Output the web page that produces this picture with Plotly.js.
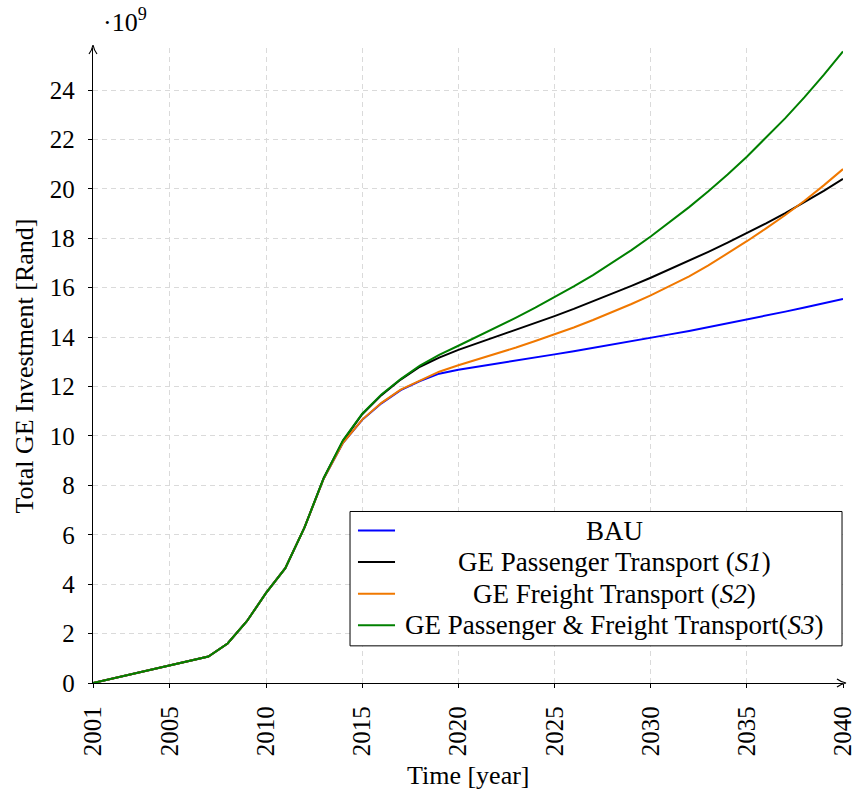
<!DOCTYPE html>
<html>
<head>
<meta charset="utf-8">
<script src="https://cdn.plot.ly/plotly-3.0.1.min.js"></script>
<style>
  html, body { margin: 0; padding: 0; background: #fff; }
  #chart { width: 854px; height: 790px; }
</style>
</head>
<body>
<div id="chart"></div>
<script>
// Total green-economy investment per scenario, in units of 10^9 Rand
const years = [2001, 2002, 2003, 2004, 2005, 2006, 2007, 2008, 2009, 2010,
               2011, 2012, 2013, 2014, 2015, 2016, 2017, 2018, 2019, 2020,
               2021, 2022, 2023, 2024, 2025, 2026, 2027, 2028, 2029, 2030,
               2031, 2032, 2033, 2034, 2035, 2036, 2037, 2038, 2039, 2040];

const bau = [0, 0.18, 0.35, 0.53, 0.71, 0.89, 1.07, 1.6, 2.5, 3.65,
             4.65, 6.3, 8.28, 9.72, 10.65, 11.32, 11.85, 12.22, 12.52, 12.68,
             12.8, 12.93, 13.06, 13.18, 13.3, 13.43, 13.56, 13.69, 13.83, 13.97,
             14.11, 14.25, 14.4, 14.55, 14.71, 14.87, 15.03, 15.2, 15.37, 15.54];

const passengerS1 = [0, 0.18, 0.35, 0.53, 0.71, 0.89, 1.07, 1.6, 2.5, 3.65,
                     4.65, 6.3, 8.3, 9.8, 10.88, 11.65, 12.28, 12.8, 13.17, 13.48,
                     13.75, 14.02, 14.29, 14.57, 14.85, 15.14, 15.44, 15.75, 16.07, 16.4,
                     16.74, 17.09, 17.45, 17.82, 18.2, 18.6, 19.02, 19.46, 19.92, 20.4];

const freightS2 = [0, 0.18, 0.35, 0.53, 0.71, 0.89, 1.07, 1.6, 2.5, 3.65,
                   4.65, 6.3, 8.28, 9.72, 10.66, 11.34, 11.87, 12.24, 12.6, 12.86,
                   13.09, 13.33, 13.58, 13.84, 14.11, 14.39, 14.69, 15.01, 15.34, 15.69,
                   16.06, 16.46, 16.9, 17.38, 17.88, 18.4, 18.94, 19.52, 20.14, 20.8];

const combinedS3 = [0, 0.18, 0.35, 0.53, 0.71, 0.89, 1.07, 1.6, 2.5, 3.65,
                    4.65, 6.3, 8.3, 9.82, 10.9, 11.68, 12.3, 12.85, 13.28, 13.65,
                    14.02, 14.4, 14.79, 15.19, 15.61, 16.05, 16.51, 17.0, 17.52, 18.07,
                    18.65, 19.26, 19.9, 20.58, 21.3, 22.06, 22.86, 23.71, 24.61, 25.56];

const seriesNames = ['BAU',
                     'GE Passenger Transport (<i>S1</i>)',
                     'GE Freight Transport (<i>S2</i>)',
                     'GE Passenger &amp; Freight Transport(<i>S3</i>)'];
const seriesValues = [bau, passengerS1, freightS2, combinedS3];
const seriesColors = ['#0000ff', '#000000', '#f07800', '#008000'];

const xTicks = [2001, 2005, 2010, 2015, 2020, 2025, 2030, 2035, 2040];
const yTicks = [0, 2, 4, 6, 8, 10, 12, 14, 16, 18, 20, 22, 24];
const xRange = [2001, 2040];
const yRange = [0, 25.7];

const FONT = 'Liberation Serif, Times New Roman, serif';

const traces = seriesValues.map((vals, i) => ({
  type: 'scatter',
  mode: 'lines',
  x: years,
  y: vals,
  name: seriesNames[i],
  line: { color: seriesColors[i], width: 2 },
  showlegend: false,
  hoverinfo: 'skip'
}));

// Boxed legend with centred entry text
const legBox = { x0: 0.3427, x1: 0.9987, y0: 0.0585, y1: 0.2701 };
const rowY = [0.2401, 0.1904, 0.1406, 0.0908];
const shapes = [{
  type: 'rect', xref: 'paper', yref: 'paper',
  x0: legBox.x0, x1: legBox.x1, y0: legBox.y0, y1: legBox.y1,
  line: { color: '#000', width: 1 }, fillcolor: '#fff', layer: 'above'
}];
const annotations = [];
seriesNames.forEach((nm, i) => {
  shapes.push({
    type: 'line', xref: 'paper', yref: 'paper',
    x0: 0.3533, x1: 0.4027, y0: rowY[i], y1: rowY[i],
    line: { color: seriesColors[i], width: 2 }, layer: 'above'
  });
  annotations.push({
    xref: 'paper', yref: 'paper', x: 0.6947, y: rowY[i],
    xanchor: 'center', yanchor: 'middle', showarrow: false,
    text: nm, font: { family: FONT, size: 27, color: '#000' }
  });
});

// Open arrow heads at the ends of both axes (paper anchored, pixel sized)
shapes.push(
  { type: 'path', xref: 'paper', yref: 'paper', xsizemode: 'pixel', ysizemode: 'pixel',
    xanchor: 1, yanchor: 0,
    path: 'M -6 4 Q -2 1 3 0 Q -2 -1 -6 -4',
    line: { color: '#000', width: 1.2 }, layer: 'above' },
  { type: 'path', xref: 'paper', yref: 'paper', xsizemode: 'pixel', ysizemode: 'pixel',
    xanchor: 0, yanchor: 1,
    path: 'M -4 -6 Q -1 -2 0 3 Q 1 -2 4 -6',
    line: { color: '#000', width: 1.2 }, layer: 'above' }
);

// Axis titles and exponent marker
annotations.push(
  { xref: 'paper', yref: 'paper', x: 0.5, y: -0.1453, xanchor: 'center', yanchor: 'middle',
    showarrow: false, text: 'Time [year]', font: { family: FONT, size: 26, color: '#000' } },
  { xref: 'paper', yref: 'paper', x: -0.0907, y: 0.5, xanchor: 'center', yanchor: 'middle',
    textangle: -90, showarrow: false, text: 'Total GE Investment [Rand]',
    font: { family: FONT, size: 26, color: '#000' } },
  { xref: 'paper', yref: 'paper', x: 0.011, y: 1.044, xanchor: 'left', yanchor: 'middle',
    showarrow: false, text: '·10<sup>9</sup>', font: { family: FONT, size: 26, color: '#000' } }
);

const gridDash = '5px,4px';
const layout = {
  width: 854, height: 790,
  margin: { l: 93, r: 11, t: 48, b: 107, pad: 0 },
  paper_bgcolor: '#fff', plot_bgcolor: '#fff',
  font: { family: FONT, size: 25, color: '#000' },
  showlegend: false,
  xaxis: {
    range: xRange, tickvals: xTicks, ticktext: xTicks.map(String),
    tickangle: -90, ticks: 'outside', ticklen: 4, tickcolor: '#000',
    showline: true, linecolor: '#000', linewidth: 1.2,
    showgrid: true, gridcolor: '#dadada', griddash: gridDash, gridwidth: 1,
    zeroline: false, ticklabelstandoff: 8, ticklabeloverflow: 'allow',
    tickfont: { family: FONT, size: 25, color: '#000' }
  },
  yaxis: {
    range: yRange, tickvals: yTicks, ticktext: yTicks.map(String),
    ticks: 'outside', ticklen: 4, tickcolor: '#000',
    showline: true, linecolor: '#000', linewidth: 1.2,
    showgrid: true, gridcolor: '#dadada', griddash: gridDash, gridwidth: 1,
    zeroline: false, ticklabelstandoff: 8, ticklabeloverflow: 'allow',
    tickfont: { family: FONT, size: 25, color: '#000' }
  },
  shapes: shapes,
  annotations: annotations
};

Plotly.newPlot('chart', traces, layout, { staticPlot: true, displayModeBar: false });
</script>
</body>
</html>
